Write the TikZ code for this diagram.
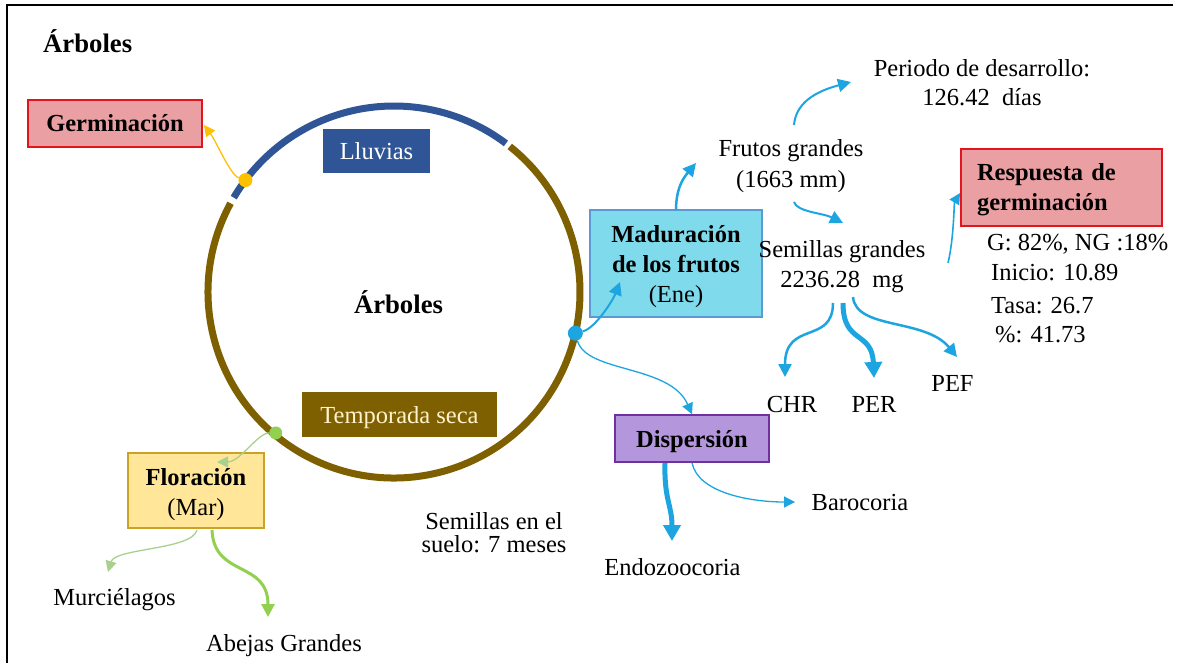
\documentclass[tikz,border=0pt]{standalone}
\usepackage{fontspec}
\setmainfont{Liberation Serif}
\usetikzlibrary{arrows.meta,calc}

\definecolor{rainblue}{HTML}{2F5597}
\definecolor{drybrown}{HTML}{7F6000}
\definecolor{drytext}{HTML}{FFF2CC}
\definecolor{sky}{HTML}{1CA5E0}
\definecolor{germfill}{HTML}{EAA0A2}
\definecolor{germline}{HTML}{E2141C}
\definecolor{madfill}{HTML}{7FDBEC}
\definecolor{madline}{HTML}{5B9BD5}
\definecolor{dispfill}{HTML}{B496DC}
\definecolor{displine}{HTML}{7030A0}
\definecolor{florfill}{HTML}{FFE699}
\definecolor{florline}{HTML}{C9A227}
\definecolor{amber}{HTML}{FFC000}
\definecolor{leaf}{HTML}{92D050}
\definecolor{paleleaf}{HTML}{A9D18E}

% invisible struts that fix the height (#1) and depth (#2) of a line in a box
\newcommand{\topstrut}[1]{\rule{0pt}{#1}}
\newcommand{\botstrut}[1]{\rule[-#1]{0pt}{#1}}
\newcommand{\linestrut}[2]{\rule[-#2]{0pt}{\dimexpr#1+#2\relax}}

\begin{document}
\begin{tikzpicture}[x=1pt,y=-1pt,
  txt/.style={font=\fontsize{24.5}{30}\selectfont, inner sep=0pt},
  heading/.style={font=\fontsize{26.7}{32}\selectfont\bfseries, inner sep=0pt},
  box/.style={rectangle, inner sep=0pt, align=center, font=\fontsize{24.5}{30}\selectfont},
  dot/.style={circle, inner sep=0pt, minimum size=#1},
  thinlink/.style={line width=1.3pt, -{Triangle[length=11pt,width=11pt]}},
  midlink/.style={line width=2.5pt, -{Triangle[length=13pt,width=13pt]}},
  thicklink/.style={line width=5pt, -{Triangle[length=16pt,width=17pt]}},
]
\useasboundingbox (0,0) rectangle (1177,662);
\fill[white] (0,0) rectangle (1177,662);

% frame
\draw[line width=2.7pt] (7,664) -- (7,5) -- (1173,5);

% yearly cycle: rainy season and dry season arcs
\coordinate (c) at (394,292);
\draw[drybrown, line width=7pt] (c) ++(-151.5:186) arc[start angle=-151.5, end angle=-411.5, radius=186];
\draw[rainblue, line width=7pt] (c) ++(-53:186) arc[start angle=-53, end angle=-149.5, radius=186];

\node[dot=14pt, fill=amber] (odot) at ($(c)+(-143:186)$) {};
\node[dot=15pt, fill=sky] (bdot) at ($(c)+(12.8:186)$) {};
\node[dot=13pt, fill=leaf] (gdot) at ($(c)+(-230:184)$) {};

% titles
\node[heading, anchor=base west] (title) at (43,52) {Árboles};
\node[heading, anchor=base] (tree) at (398.5,313) {Árboles};

% season labels
\node[box, fill=rainblue, text=white, minimum width=107pt, minimum height=44pt] (rain) at (376.5,151) {Lluvias};
\node[box, fill=drybrown, text=drytext, minimum width=195pt, minimum height=45pt] (dry) at (399.5,414.5)
      {\linestrut{22.5pt}{5.5pt}Temporada seca};

% phase boxes
\node[box, fill=germfill, draw=germline, line width=1.8pt, minimum width=174pt, minimum height=47pt,
      font=\fontsize{24.5}{30}\selectfont\bfseries] (germ) at (115,123.5) {\linestrut{22pt}{5.3pt}Germinación};
\node[box, fill=madfill, draw=madline, line width=1.5pt, minimum width=172pt, minimum height=107pt] (mad) at (676,263.5)
      {\topstrut{23pt}\textbf{Maduración}\\\textbf{de los frutos}\\(Ene)\botstrut{6pt}};
\node[box, fill=dispfill, draw=displine, line width=1.5pt, minimum width=154pt, minimum height=47pt,
      font=\fontsize{24.5}{30}\selectfont\bfseries] (disp) at (692,438.5) {\linestrut{22.5pt}{5.5pt}Dispersión};
\node[box, fill=florfill, draw=florline, line width=1.5pt, minimum width=136pt, minimum height=75pt] (flor) at (196,490.5)
      {\topstrut{25pt}\textbf{Floración}\\(Mar)\botstrut{6pt}};
\node[rectangle, fill=germfill, draw=germline, line width=1.8pt, text width=169pt, align=left,
      inner xsep=16pt, inner ysep=0pt, minimum height=77pt,
      font=\fontsize{24.5}{30}\selectfont\bfseries] (resp) at (1061.5,187.5)
      {\topstrut{21pt}Respuesta de\\germinación\botstrut{6pt}};

% fruit and seed traits
\node[txt, align=center, font=\fontsize{24.5}{31}\selectfont] (fruit) at (791,166.5) {Frutos grandes\\(1663 mm)};
\node[txt, align=center, font=\fontsize{24.5}{29}\selectfont] (period) at (982,82.3) {Periodo de desarrollo:\\126.42\ \ días};
\node[txt, align=center] (seed) at (842,266.4) {Semillas grandes\\2236.28\ \ mg};
\node[txt, align=left, anchor=north west] (stats) at (987,233.5)
      {G: 82\%, NG :18\%\\\hspace*{4pt}Inicio: 10.89\\[3pt]\hspace*{4pt}Tasa: 26.7\\[-1pt]\hspace*{8pt}\%: 41.73};

\node[txt, anchor=base] (chr) at (792,412) {CHR};
\node[txt, anchor=base] (per) at (874,412) {PER};
\node[txt, anchor=base] (pef) at (952.5,391) {PEF};

% dispersal and pollination
\node[txt, anchor=base] (baro) at (860,510) {Barocoria};
\node[txt, anchor=base] (endo) at (672.5,575) {Endozoocoria};
\node[txt, align=center, font=\fontsize{24.5}{23}\selectfont] (soil) at (494,533) {Semillas en el\\suelo: 7 meses};
\node[txt, anchor=base] (bats) at (114.5,605) {Murciélagos};
\node[txt, anchor=base] (bees) at (284,651) {Abejas Grandes};

% arrow end points
\coordinate (germtip) at (204,125);
\coordinate (madtip) at (620,282);
\coordinate (fruitin) at (676,210);
\coordinate (fruittip) at (696,163);
\coordinate (fruittop) at (794,125);
\coordinate (periodtip) at (851,82);
\coordinate (fruitbot) at (794,202);
\coordinate (seedtip) at (843,223);
\coordinate (seedright) at (948,263);
\coordinate (resptip) at (960,193);
\coordinate (seedl) at (833,303);
\coordinate (seedm) at (843,303);
\coordinate (seedr) at (853,297);
\coordinate (chrtip) at (785,377);
\coordinate (pertip) at (874,378);
\coordinate (peftip) at (957,357);
\coordinate (displ) at (665,463);
\coordinate (endotip) at (672,541);
\coordinate (barotip) at (795,502);
\coordinate (flortip) at (217,462);
\coordinate (florl) at (197,530);
\coordinate (florr) at (212,530);
\coordinate (batstip) at (108,572);
\coordinate (beestip) at (268,617);

% germination
\draw[thinlink, amber] (odot) .. controls +(-15,-5) and +(12,16) .. (germtip);

% fruit ripening and its traits
\draw[midlink, sky, line width=2pt] (bdot) .. controls +(20,-5) and +(-7,18) .. (madtip);
\draw[midlink, sky] (fruitin) .. controls +(0,-25) and +(-10,12) .. (fruittip);
\draw[midlink, sky, line width=2pt] (fruittop) .. controls +(2,-25) and +(-30,8) .. (periodtip);
\draw[midlink, sky, line width=2pt] (fruitbot) .. controls +(3,10) and +(-20,-10) .. (seedtip);
\draw[thinlink, sky, line width=1.6pt] (seedright) .. controls +(6,-25) and +(-6,10) .. (resptip);
\draw[midlink, sky] (seedl) .. controls (833,345) and (785,320) .. (chrtip);
\draw[thicklink, sky] (seedm) .. controls (843,345) and (872,330) .. (pertip);
\draw[midlink, sky] (seedr) .. controls (856,330) and (925,318) .. (peftip);

% dispersal
\draw[thinlink, sky] (bdot) .. controls +(11,40) and +(-22,-50) .. (disp.north);
\draw[thicklink, sky] (displ) .. controls +(-1,37) and +(0,-36) .. (endotip);
\draw[thinlink, sky] (disp.south) .. controls +(6,30) and +(-45,0) .. (barotip);

% flowering and pollinators
\draw[thinlink, paleleaf] (gdot) .. controls +(-18,0) and +(23,0) .. (flortip);
\draw[thinlink, paleleaf] (florl) .. controls +(-5,20) and +(7,-24) .. (batstip);
\draw[midlink, leaf, line width=3pt] (florr) .. controls +(2,48) and +(0,-57) .. (beestip);
\end{tikzpicture}
\end{document}
